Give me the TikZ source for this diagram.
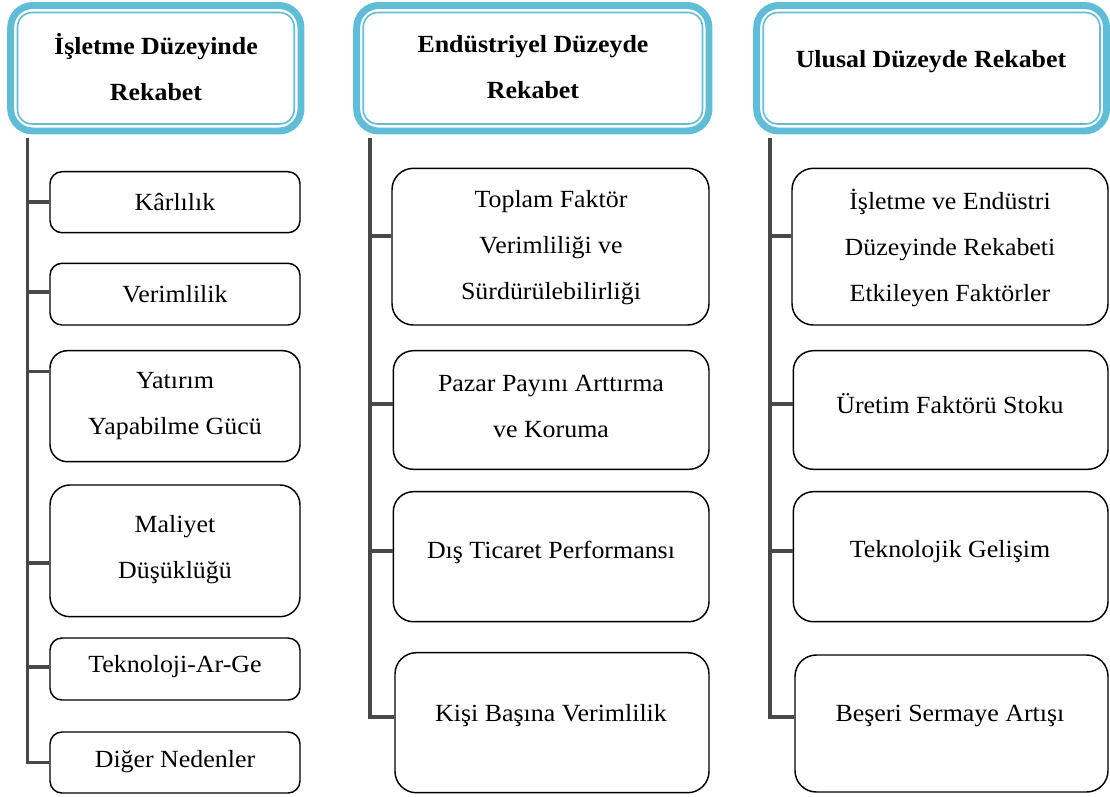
\documentclass[tikz,border=0pt]{standalone}
\usepackage{fontspec}
\setmainfont[FakeStretch=1.05]{Liberation Serif}
\usetikzlibrary{fit,calc}
\definecolor{headblue}{RGB}{96,189,215}
\definecolor{trunkgray}{RGB}{72,72,72}
\newcommand\boxfont{\fontsize{18.5pt}{34.5pt}\selectfont}
\begin{document}
\begin{tikzpicture}[x=0.75pt,y=-0.75pt,
  headouter/.style={draw=headblue,line width=5.2pt,rounded corners=16.5pt,inner sep=0pt,fill=white},
  headinner/.style={draw=headblue,line width=1.2pt,rounded corners=11pt,inner sep=0pt},
  headtext/.style={font=\boxfont\bfseries,align=center,inner sep=0pt},
  itembox/.style={draw=black,line width=1.1pt,inner sep=0pt,fill=white},
  itemtext/.style={font=\boxfont,align=center,inner sep=0pt},
  trunk/.style={draw=trunkgray,line width=2.7pt}]
\useasboundingbox (0,0) rectangle (1110,796);

% ---- headers ----
\node[headouter,fit={(10.7,5.5) (301,131)}] (h1) {};
\node[headinner,fit={(17.5,12.5) (294.2,124)}] (h1i) {};
\node[headtext] (h1t) at (156,67.5) {İşletme Düzeyinde\\Rekabet};

\node[headouter,fit={(356.7,5.5) (709,131)}] (h2) {};
\node[headinner,fit={(363.2,12.5) (702.5,124)}] (h2i) {};
\node[headtext] (h2t) at (533,67.5) {Endüstriyel Düzeyde\\Rekabet};

\node[headouter,fit={(756.7,5.5) (1106.5,131)}] (h3) {};
\node[headinner,fit={(763.2,12.5) (1100,124)}] (h3i) {};
\node[headtext] (h3t) at (931,62) {Ulusal Düzeyde Rekabet};

% ---- first column ----
\node[itembox,rounded corners=9pt,fit={(50,171.7) (300,232.7)}] (b11) {};
\node[itembox,rounded corners=9pt,fit={(50,263.3) (300,325)}] (b12) {};
\node[itembox,rounded corners=13pt,fit={(50,350.7) (300,461.7)}] (b13) {};
\node[itembox,rounded corners=15pt,fit={(50,485) (300,616.7)}] (b14) {};
\node[itembox,rounded corners=9pt,fit={(50,638) (300,700)}] (b15) {};
\node[itembox,rounded corners=9pt,fit={(50,732) (300,793)}] (b16) {};

\node[itemtext] (t11) at (175,202) {Kârlılık};
\node[itemtext] (t12) at (175,294) {Verimlilik};
\node[itemtext] (t13) at (175,406) {Yatırım\\Yapabilme Gücü};
\node[itemtext] (t14) at (175,550) {Maliyet\\Düşüklüğü};
\node[itemtext] (t15) at (175,667) {Teknoloji-Ar-Ge};
\node[itemtext] (t16) at (175,762) {Diğer Nedenler};

% ---- second column ----
\node[itembox,rounded corners=16pt,fit={(392,168.3) (709,325)}] (b21) {};
\node[itembox,rounded corners=15pt,fit={(393.3,350.7) (709,469.3)}] (b22) {};
\node[itembox,rounded corners=15pt,fit={(393.3,491.7) (709,621.7)}] (b23) {};
\node[itembox,rounded corners=16pt,fit={(395,652.7) (709,792.7)}] (b24) {};

\node[itemtext] (t21) at (551,248) {Toplam Faktör\\Verimliliği ve\\Sürdürülebilirliği};
\node[itemtext] (t22) at (551,406) {Pazar Payını Arttırma\\ve Koruma};
\node[itemtext] (t23) at (551,552) {Dış Ticaret Performansı};
\node[itemtext] (t24) at (551,716) {Kişi Başına Verimlilik};

% ---- third column ----
\node[itembox,rounded corners=16pt,fit={(792,168.3) (1108,325)}] (b31) {};
\node[itembox,rounded corners=15pt,fit={(793.3,350.7) (1108,469.3)}] (b32) {};
\node[itembox,rounded corners=15pt,fit={(793.3,491.7) (1108,621.7)}] (b33) {};
\node[itembox,rounded corners=16pt,fit={(795,655) (1108,792)}] (b34) {};

\node[itemtext] (t31) at (950,248) {İşletme ve Endüstri\\Düzeyinde Rekabeti\\Etkileyen Faktörler};
\node[itemtext] (t32) at (950,404) {Üretim Faktörü Stoku};
\node[itemtext] (t33) at (950,552) {Teknolojik Gelişim};
\node[itemtext] (t34) at (950,716) {Beşeri Sermaye Artışı};

% ---- trunks and branches ----
\coordinate (c1) at (h1.south -| 27.5,0);
\coordinate (c2) at (h2.south -| 370,0);
\coordinate (c3) at (h3.south -| 770,0);

\draw[trunk] ([yshift=-2.6pt]c1) |- (b16.west);
\draw[trunk] (c1 |- b11.west) -- (b11.west);
\draw[trunk] ([yshift=1.6pt]c1 |- b12.west) -- ([yshift=1.6pt]b12.west);
\draw[trunk] ([yshift=25.9pt]c1 |- b13.west) -- ([yshift=25.9pt]b13.west);
\draw[trunk] ([yshift=-9.1pt]c1 |- b14.west) -- ([yshift=-9.1pt]b14.west);
\draw[trunk] ([yshift=1.6pt]c1 |- b15.west) -- ([yshift=1.6pt]b15.west);

\draw[trunk] ([yshift=-2.6pt]c2) |- ([yshift=4.5pt]b24.west);
\draw[trunk] ([yshift=8pt]c2 |- b21.west) -- ([yshift=8pt]b21.west);
\draw[trunk] ([yshift=4.5pt]c2 |- b22.west) -- ([yshift=4.5pt]b22.west);
\draw[trunk] ([yshift=4.5pt]c2 |- b23.west) -- ([yshift=4.5pt]b23.west);

\draw[trunk] ([yshift=-2.6pt]c3) |- ([yshift=5.1pt]b34.west);
\draw[trunk] ([yshift=8pt]c3 |- b31.west) -- ([yshift=8pt]b31.west);
\draw[trunk] ([yshift=4.5pt]c3 |- b32.west) -- ([yshift=4.5pt]b32.west);
\draw[trunk] ([yshift=4.5pt]c3 |- b33.west) -- ([yshift=4.5pt]b33.west);
\end{tikzpicture}
\end{document}
